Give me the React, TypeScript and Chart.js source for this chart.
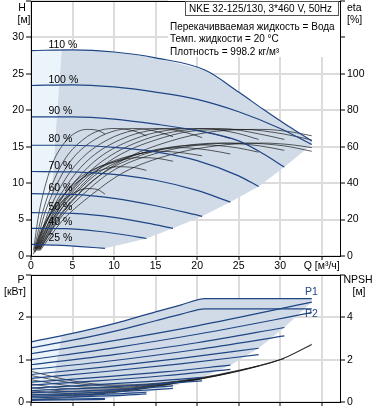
import React, { useEffect, useRef } from 'react';
import { Chart, registerables } from 'chart.js';

Chart.register(...registerables);

const FONT = 'Arial, "Liberation Sans", Helvetica, sans-serif';
const W = 378;
const TOP_H = 273;
const BOT_H = 137;
const FS = 10.5;
const FS_INFO = 10;

// ---------- Texts ----------
const titleText = 'NKE 32-125/130, 3*460 V, 50Hz';
const infoLines = ['Перекачивваемая жидкость = Вода', 'Темп. жидкости = 20 °C', 'Плотность = 998.2 кг/м³'];
const qAxisLabel = 'Q [м³/ч]';

// ---------- Head curves (Q m3/h, H m) ----------
const headQ110 = [0, 5, 10, 15, 21, 25, 28, 31, 33.8];
const headH110 = [28.2, 28.3, 28.0, 27.2, 25.5, 22.5, 20.1, 17.8, 15.8];
const headQ100 = [0, 5, 10, 15, 20, 25, 30, 33.8];
const headH100 = [23.4, 23.5, 23.2, 22.5, 21.5, 19.8, 17.5, 15.3];
const headQ90 = [0, 5, 10, 15, 20, 25, 28, 30.5];
const headH90 = [19.1, 19.1, 18.8, 18.1, 17.2, 15.8, 14.0, 12.2];
const headQ80 = [0, 5, 10, 15, 20, 25, 27.4];
const headH80 = [15.2, 15.2, 14.9, 14.3, 13.1, 11.0, 9.55];
const headQ70 = [0, 5, 10, 15, 20, 24];
const headH70 = [11.6, 11.55, 11.2, 10.4, 9.0, 7.4];
const headQ60 = [0, 5, 10, 15, 20.6];
const headH60 = [8.55, 8.45, 7.9, 6.9, 5.45];
const headQ50 = [0, 5, 10, 14, 17.1];
const headH50 = [5.95, 5.85, 5.3, 4.5, 3.8];
const headQ40 = [0, 4, 8, 11, 13.9];
const headH40 = [3.8, 3.75, 3.4, 2.95, 2.4];
const headQ25 = [0, 3, 6, 8.9];
const headH25 = [1.6, 1.5, 1.3, 1.05];

// ---------- Efficiency curves (Q, eta %) ----------
const etaQ110 = [1.1, 3.7, 7.4, 11.2, 16.7, 22.3, 27.9, 31.5, 33.8];
const etaPump110 = [4, 23, 41, 53, 63, 68.5, 69.5, 68, 66];
const etaTot110 = [3, 19, 34, 46, 55.5, 60.5, 62, 61, 59.5];
const etaQ100 = [1.0, 3.4, 6.8, 10.1, 15.2, 20.3, 25.4, 30.4, 33.8];
const etaPump100 = [4, 24, 42, 54, 64, 69, 69.5, 67, 63.7];
const etaTot100 = [3, 20, 36, 47.5, 56.5, 61, 62, 60.5, 57.5];
const etaQ90 = [0.9, 3.1, 6.1, 9.2, 13.7, 18.3, 22.9, 27.5, 30.5];
const etaPump90 = [4, 24, 42, 54, 64, 69, 70, 67, 64];
const etaTot90 = [3, 20, 36, 47, 56, 60.5, 62, 60.5, 58];
const etaQ80 = [0.8, 2.7, 5.5, 8.2, 12.3, 16.4, 20.6, 24.7, 27.4];
const etaPump80 = [4, 24, 42, 54, 64, 69, 70, 67.5, 64];
const etaTot80 = [3, 20, 35, 46, 55, 59.5, 61, 59.5, 57];
const etaQ70 = [0.7, 2.4, 4.8, 7.2, 10.8, 14.4, 18.0, 21.6, 24.0];
const etaPump70 = [4, 24, 42, 54, 64, 69, 70, 67.5, 64.5];
const etaTot70 = [3, 19, 34, 45, 53, 57.5, 59.5, 58, 56];
const etaQ60 = [0.6, 2.1, 4.1, 6.2, 9.3, 12.4, 15.5, 18.5, 20.6];
const etaPump60 = [4, 24, 42, 54, 64, 69, 70, 68, 65];
const etaTot60 = [3, 18, 32, 43, 51, 55.5, 57.5, 56.5, 55];
const etaQ50 = [0.5, 1.7, 3.4, 5.1, 7.7, 10.3, 12.8, 15.4, 17.1];
const etaPump50 = [4, 24, 42, 54, 64, 69, 70, 68, 65.5];
const etaTot50 = [2, 17, 30, 40, 48, 52, 54, 53.5, 52];
const etaQ40 = [0.4, 1.4, 2.8, 4.2, 6.3, 8.3, 10.4, 12.5, 13.9];
const etaPump40 = [4, 24, 42, 54, 64, 69, 70, 68.5, 66];
const etaTot40 = [2, 15, 27, 35, 43, 47, 49, 48.5, 47];
const etaQ25 = [0.3, 0.9, 1.8, 2.7, 4.0, 5.3, 6.7, 8.0, 8.9];
const etaPump25 = [3, 22, 40, 52, 62, 67.5, 69.5, 69, 67];
const etaTot25 = [1, 10, 19, 25, 31, 35, 37, 36.5, 34];

// ---------- Operating range (Q, H) ----------
const rangeDarkQ = [3.7, 5, 10, 15, 21, 25, 28, 31, 33.8, 33.8, 30.5, 27.4, 24, 20.6, 17.1, 13.9, 11, 8.9, 6, 3, 1.5, 1.9, 2.2, 2.5, 2.7, 2.9, 3.1, 3.4, 3.7];
const rangeDarkH = [28.3, 28.3, 28.0, 27.2, 25.5, 22.5, 20.1, 17.8, 15.8, 15.3, 12.2, 9.55, 7.4, 5.45, 3.8, 2.4, 1.6, 1.05, 1.3, 1.5, 1.55, 3.8, 5.9, 8.5, 11.6, 15.2, 19.1, 23.5, 28.3];
const rangeLightQ = [0, 3.7, 3.4, 3.1, 2.9, 2.7, 2.5, 2.2, 1.9, 1.5, 0];
const rangeLightH = [28.2, 28.3, 23.5, 19.1, 15.2, 11.6, 8.5, 5.9, 3.8, 1.55, 1.6];

// ---------- Power curves (Q, kW) ----------
const pQ110 = [0, 5, 10, 15, 18, 21, 33.8];
const p1_110 = [1.42, 1.62, 1.85, 2.13, 2.29, 2.44, 2.44];
const p2_110 = [1.28, 1.46, 1.67, 1.92, 2.07, 2.2, 2.2];
const pQ100 = [0, 10, 20, 33.8];
const p1_100 = [1.14, 1.45, 1.8, 2.36];
const p2_100 = [1.0, 1.28, 1.6, 2.11];
const pQ90 = [0, 10, 20, 30.5];
const p1_90 = [0.88, 1.12, 1.4, 1.76];
const p2_90 = [0.77, 0.98, 1.24, 1.56];
const pQ80 = [0, 9, 18, 27.4];
const p1_80 = [0.65, 0.83, 1.03, 1.27];
const p2_80 = [0.56, 0.72, 0.9, 1.12];
const pQ70 = [0, 8, 16, 24];
const p1_70 = [0.47, 0.58, 0.71, 0.87];
const p2_70 = [0.4, 0.5, 0.62, 0.77];
const pQ60 = [0, 7, 14, 20.6];
const p1_60 = [0.33, 0.4, 0.48, 0.58];
const p2_60 = [0.27, 0.33, 0.41, 0.5];
const pQ50 = [0, 6, 12, 17.1];
const p1_50 = [0.22, 0.26, 0.31, 0.38];
const p2_50 = [0.17, 0.21, 0.26, 0.32];
const pQ40 = [0, 5, 10, 13.9];
const p1_40 = [0.14, 0.16, 0.19, 0.23];
const p2_40 = [0.1, 0.12, 0.15, 0.19];
const pQ25 = [0, 4.5, 8.9];
const p1_25 = [0.06, 0.07, 0.08];
const p2_25 = [0.04, 0.05, 0.06];

// ---------- NPSH curves (Q, m) ----------
const npshQ110 = [0, 5, 10, 15, 20, 25, 30, 33.8];
const npsh110 = [1.45, 1.0, 0.8, 0.88, 1.12, 1.5, 2.0, 2.7];
const npshQ100 = [0, 5, 10, 15, 20, 25, 30, 33.8];
const npsh100 = [1.25, 0.9, 0.75, 0.85, 1.1, 1.48, 2.0, 2.73];
const npshQ90 = [0, 5, 10, 15, 20, 25, 30.5];
const npsh90 = [1.05, 0.75, 0.68, 0.82, 1.08, 1.47, 2.05];
const npshQ80 = [0, 5, 10, 15, 20, 25, 27.4];
const npsh80 = [0.85, 0.62, 0.62, 0.8, 1.07, 1.45, 1.7];
const npshQ70 = [0, 5, 10, 15, 20, 24];
const npsh70 = [0.68, 0.5, 0.56, 0.77, 1.05, 1.38];
const npshQ60 = [0, 5, 10, 15, 20.6];
const npsh60 = [0.52, 0.42, 0.52, 0.75, 1.1];
const npshQ50 = [0, 5, 10, 15, 17.1];
const npsh50 = [0.38, 0.35, 0.48, 0.72, 0.86];
const npshQ40 = [0, 5, 10, 13.9];
const npsh40 = [0.27, 0.3, 0.45, 0.65];
const npshQ25 = [0, 5, 8.9];
const npsh25 = [0.12, 0.22, 0.38];

// ---------- Power range (Q, kW) ----------
const pRangeDarkQ = [3.7, 5, 10, 15, 18, 21, 33.8, 33.8, 30.5, 27.4, 24, 20.6, 17.1, 13.9, 8.9, 4.5, 1.5, 1.9, 2.2, 2.5, 2.7, 2.9, 3.1, 3.4, 3.7];
const pRangeDarkP = [1.57, 1.62, 1.85, 2.13, 2.29, 2.44, 2.44, 2.36, 1.76, 1.27, 0.87, 0.58, 0.38, 0.23, 0.08, 0.07, 0.065, 0.15, 0.24, 0.36, 0.51, 0.71, 0.96, 1.25, 1.57];
const pRangeLightQ = [0, 3.7, 3.4, 3.1, 2.9, 2.7, 2.5, 2.2, 1.9, 1.5, 0];
const pRangeLightP = [1.42, 1.57, 1.25, 0.95, 0.71, 0.51, 0.34, 0.23, 0.15, 0.065, 0.06];

const speedNames = ['110 %', '100 %', '90 %', '80 %', '70 %', '60 %', '50 %', '40 %', '25 %'];
const headSeries: [number[], number[]][] = [
  [headQ110, headH110], [headQ100, headH100], [headQ90, headH90], [headQ80, headH80],
  [headQ70, headH70], [headQ60, headH60], [headQ50, headH50], [headQ40, headH40], [headQ25, headH25],
];
const etaSeries: [number[], number[]][] = [
  [etaQ110, etaPump110], [etaQ110, etaTot110], [etaQ100, etaPump100], [etaQ100, etaTot100],
  [etaQ90, etaPump90], [etaQ90, etaTot90], [etaQ80, etaPump80], [etaQ80, etaTot80],
  [etaQ70, etaPump70], [etaQ70, etaTot70], [etaQ60, etaPump60], [etaQ60, etaTot60],
  [etaQ50, etaPump50], [etaQ50, etaTot50], [etaQ40, etaPump40], [etaQ40, etaTot40],
  [etaQ25, etaPump25], [etaQ25, etaTot25],
];
const powerSeries: [number[], number[]][] = [
  [pQ110, p1_110], [pQ110, p2_110], [pQ100, p1_100], [pQ100, p2_100], [pQ90, p1_90], [pQ90, p2_90],
  [pQ80, p1_80], [pQ80, p2_80], [pQ70, p1_70], [pQ70, p2_70], [pQ60, p1_60], [pQ60, p2_60],
  [pQ50, p1_50], [pQ50, p2_50], [pQ40, p1_40], [pQ40, p2_40], [pQ25, p1_25], [pQ25, p2_25],
];
const npshSeries: [number[], number[]][] = [
  [npshQ110, npsh110], [npshQ100, npsh100], [npshQ90, npsh90], [npshQ80, npsh80], [npshQ70, npsh70],
  [npshQ60, npsh60], [npshQ50, npsh50], [npshQ40, npsh40], [npshQ25, npsh25],
];

const pts = (xs: number[], ys: number[]) => xs.map((x, i) => ({ x, y: ys[i] }));

const BLUE = '#1f4584';
const SHADE = '#d0dbe7';
const LIGHT = '#ebf3fb';
const GRID = '#dcdcdc';

const curve = (data: any, color: string, width: number, yAxisID: string) => ({
  data, borderColor: color, borderWidth: width, pointRadius: 0, fill: false,
  cubicInterpolationMode: 'monotone', yAxisID, order: 0,
});
const area = (data: any, color: string, yAxisID: string, order: number) => ({
  data, borderWidth: 0, borderColor: 'rgba(0,0,0,0)', backgroundColor: color, fill: 'shape',
  pointRadius: 0, tension: 0, yAxisID, order,
});

function txt(ctx: CanvasRenderingContext2D, s: string, x: number, y: number, align: CanvasTextAlign = 'left', color = '#000', base: CanvasTextBaseline = 'middle', size = FS) {
  ctx.font = `${size}px ${FONT}`;
  ctx.fillStyle = color;
  ctx.textAlign = align;
  ctx.textBaseline = base;
  ctx.fillText(s, x, y);
}

function frame(chart: any) {
  const a = chart.chartArea;
  const ctx = chart.ctx;
  ctx.save();
  ctx.strokeStyle = '#000';
  ctx.lineWidth = 1;
  const l = Math.round(a.left) + 0.5, r = Math.round(a.right) + 0.5;
  const t = Math.round(a.top) + 0.5, b = Math.round(a.bottom) + 0.5;
  ctx.strokeRect(l, t, r - l, b - t);
  ctx.restore();
}

const tickFont = { family: FONT, size: FS };
const gridBase = { color: GRID, lineWidth: 2, tickLength: 5, tickColor: '#000', tickWidth: 1 };

function xScale(height: number, showLabels: boolean) {
  return {
    type: 'linear', position: 'bottom', min: 0, max: 37.2,
    ticks: {
      display: showLabels, stepSize: 5, includeBounds: false, autoSkip: false, maxRotation: 0, padding: 0,
      color: '#000', font: tickFont,
      callback: (v: number) => (v === 35 ? qAxisLabel : String(v)),
    },
    grid: { ...gridBase, tickLength: 4 },
    border: { display: false },
    afterFit: (s: any) => { s.height = height; s.paddingLeft = 0; s.paddingRight = 0; },
  };
}
function yScale(pos: string, max: number, step: number, maxLabel: number, width: number, onArea: boolean) {
  return {
    type: 'linear', position: pos, min: 0, max,
    ticks: {
      stepSize: step, includeBounds: false, autoSkip: false, padding: 2, color: '#000', font: tickFont,
      callback: (v: number) => (v > maxLabel ? '' : String(v)),
    },
    grid: { ...gridBase, drawOnChartArea: onArea },
    border: { display: false },
    afterFit: (s: any) => { s.width = width; s.paddingTop = 0; s.paddingBottom = 0; },
  };
}

function topConfig(): any {
  const datasets: any[] = [];
  headSeries.forEach(([q, h]) => datasets.push(curve(pts(q, h), BLUE, 1.2, 'y')));
  etaSeries.forEach(([q, e]) => datasets.push(curve(pts(q, e), 'rgba(20,20,20,0.85)', 0.8, 'eta')));
  datasets.push(area(pts(rangeDarkQ, rangeDarkH), SHADE, 'y', 10));
  datasets.push(area(pts(rangeLightQ, rangeLightH), LIGHT, 'y', 11));

  const deco = {
    id: 'decoTop',
    beforeDatasetsDraw(chart: any) {
      const ctx = chart.ctx;
      ctx.save();
      ctx.fillStyle = '#fff';
      ctx.fillRect(168, 0, 340 - 168, 57);
      ctx.restore();
    },
    afterDraw(chart: any) {
      const ctx = chart.ctx;
      frame(chart);
      ctx.save();
      // info box
      ctx.strokeStyle = '#555';
      ctx.lineWidth = 1;
      ctx.fillStyle = '#fff';
      ctx.fillRect(185.5, 1.5, 153, 14);
      ctx.strokeRect(185.5, 1.5, 153, 14);
      txt(ctx, titleText, 189, 9, 'left', '#000', 'middle', FS_INFO);
      infoLines.forEach((s, i) => txt(ctx, s, 170, 27 + i * 12.5, 'left', '#000', 'middle', FS_INFO));
      // axis titles
      txt(ctx, 'H', 22, 8, 'center');
      txt(ctx, '[м]', 24, 20, 'center');
      txt(ctx, 'eta', 347, 8, 'left');
      txt(ctx, '[%]', 347, 20, 'left');
      // speed labels
      const xs = chart.scales.x, ys = chart.scales.y;
      headSeries.forEach(([, h], i) => {
        txt(ctx, speedNames[i], xs.getPixelForValue(2.1), ys.getPixelForValue(h[0]) - 0.5, 'left', '#000', 'bottom');
      });
      ctx.restore();
    },
  };

  return {
    type: 'line',
    data: { datasets },
    options: {
      animation: false, responsive: false, devicePixelRatio: 1, events: [],
      layout: { padding: { top: 1, left: 0, right: 0, bottom: 0 } },
      plugins: { legend: { display: false }, tooltip: { enabled: false } },
      scales: {
        x: xScale(TOP_H - 256, true),
        y: yScale('left', 35, 5, 30, 31, true),
        eta: yScale('right', 140, 20, 100, W - 340, false),
      },
    },
    plugins: [deco],
  };
}

function botConfig(): any {
  const datasets: any[] = [];
  powerSeries.forEach(([q, p]) => datasets.push(curve(pts(q, p), BLUE, 1.2, 'y')));
  npshSeries.forEach(([q, n]) => datasets.push(curve(pts(q, n), 'rgba(20,20,20,0.85)', 0.8, 'npsh')));
  datasets.push(area(pts(pRangeDarkQ, pRangeDarkP), SHADE, 'y', 10));
  datasets.push(area(pts(pRangeLightQ, pRangeLightP), LIGHT, 'y', 11));

  const deco = {
    id: 'decoBot',
    afterDraw(chart: any) {
      const ctx = chart.ctx;
      frame(chart);
      ctx.save();
      txt(ctx, 'P', 21, 7, 'center');
      txt(ctx, '[кВт]', 15, 19, 'center');
      txt(ctx, 'NPSH', 358, 7, 'center');
      txt(ctx, '[м]', 359, 19, 'center');
      txt(ctx, 'P1', 305, 19, 'left', BLUE);
      txt(ctx, 'P2', 305, 41, 'left', BLUE);
      ctx.restore();
    },
  };

  return {
    type: 'line',
    data: { datasets },
    options: {
      animation: false, responsive: false, devicePixelRatio: 1, events: [],
      layout: { padding: { top: 2, left: 0, right: 0, bottom: 0 } },
      plugins: { legend: { display: false }, tooltip: { enabled: false } },
      scales: {
        x: xScale(8, false),
        y: yScale('left', 3, 1, 2, 31, true),
        npsh: yScale('right', 6, 2, 4, W - 340, false),
      },
    },
    plugins: [deco],
  };
}

export default function App() {
  const topRef = useRef<HTMLCanvasElement>(null);
  const botRef = useRef<HTMLCanvasElement>(null);
  useEffect(() => {
    const c1 = new Chart(topRef.current as HTMLCanvasElement, topConfig());
    const c2 = new Chart(botRef.current as HTMLCanvasElement, botConfig());
    return () => { c1.destroy(); c2.destroy(); };
  }, []);
  return (
    <div style={{ position: 'absolute', left: 0, top: 0, width: W, height: 410, background: '#fff', overflow: 'hidden' }}>
      <canvas ref={topRef} width={W} height={TOP_H} style={{ position: 'absolute', left: 0, top: 0, width: W, height: TOP_H }} />
      <canvas ref={botRef} width={W} height={BOT_H} style={{ position: 'absolute', left: 0, top: TOP_H, width: W, height: BOT_H }} />
    </div>
  );
}
